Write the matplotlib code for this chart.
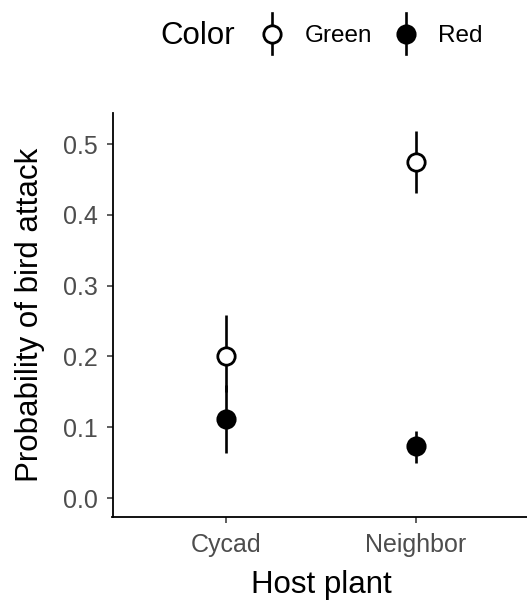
import matplotlib
matplotlib.use("Agg")
import matplotlib.pyplot as plt
from matplotlib.lines import Line2D
import numpy as np

plt.rcParams['font.family'] = ['Liberation Sans', 'DejaVu Sans']

hosts = ["Cycad", "Neighbor"]
colors = ["Green", "Red"]
prob = {"Green": [0.200, 0.475], "Red": [0.111, 0.073]}
lower = {"Green": [0.150, 0.431], "Red": [0.063, 0.049]}
upper = {"Green": [0.259, 0.519], "Red": [0.160, 0.095]}
faces = {"Green": "white", "Red": "black"}
yticks = [0.0, 0.1, 0.2, 0.3, 0.4, 0.5]

W, H = 527, 605
fig = plt.figure(figsize=(W / 100, H / 100), dpi=100)
left, right, bottom, top = 112.5, 529.5, 516.7, 113.0
ax = fig.add_axes([left / W, 1 - bottom / H, (right - left) / W, (bottom - top) / H])

x = np.arange(1, len(hosts) + 1)
ms, mew, elw = 12.5, 2.0, 1.9
for c in colors:
    ax.vlines(x, lower[c], upper[c], color="black", lw=elw, zorder=2)
    ax.plot(x, prob[c], linestyle="none", marker="o", ms=ms, mew=mew,
            mfc=faces[c], mec="black", zorder=3)

ax.set_xlim(0.4, 2.6)
ax.set_ylim(-0.0264, 0.544)
ax.set_xticks(x)
ax.set_xticklabels(hosts)
ax.set_yticks(yticks)
ax.set_yticklabels([f"{v:.1f}" for v in yticks])
for s in ["top", "right"]:
    ax.spines[s].set_visible(False)
for s in ["left", "bottom"]:
    ax.spines[s].set_linewidth(1.3)
ax.tick_params(axis="both", length=4.3, width=1.1, color="#333333",
               labelsize=18, labelcolor="#4D4D4D")
ax.tick_params(axis="x", pad=7.5)
ax.tick_params(axis="y", pad=6)
ax.set_xlabel("Host plant", fontsize=22.5, color="black", labelpad=9.5)
ax.set_ylabel("Probability of bird attack", fontsize=22.5, color="black", labelpad=13)

# legend at top
ly = 1 - 34 / H
tly = 1 - 36 / H
fig.text(160 / W, tly, "Color", fontsize=22.5, va="center", ha="left")
keys = [(271.5, "Green", 305), (406, "Red", 438)]
for kx, lab, tx in keys:
    fig.add_artist(Line2D([kx / W, kx / W], [1 - 13 / H, 1 - 54 / H],
                          transform=fig.transFigure, color="black", lw=elw))
    fig.add_artist(Line2D([kx / W], [ly], transform=fig.transFigure,
                          linestyle="none", marker="o", ms=ms, mew=mew,
                          mfc=faces[lab], mec="black"))
    fig.text(tx / W, tly, lab, fontsize=17.5, va="center", ha="left")

fig.savefig("out.png", dpi=100)
